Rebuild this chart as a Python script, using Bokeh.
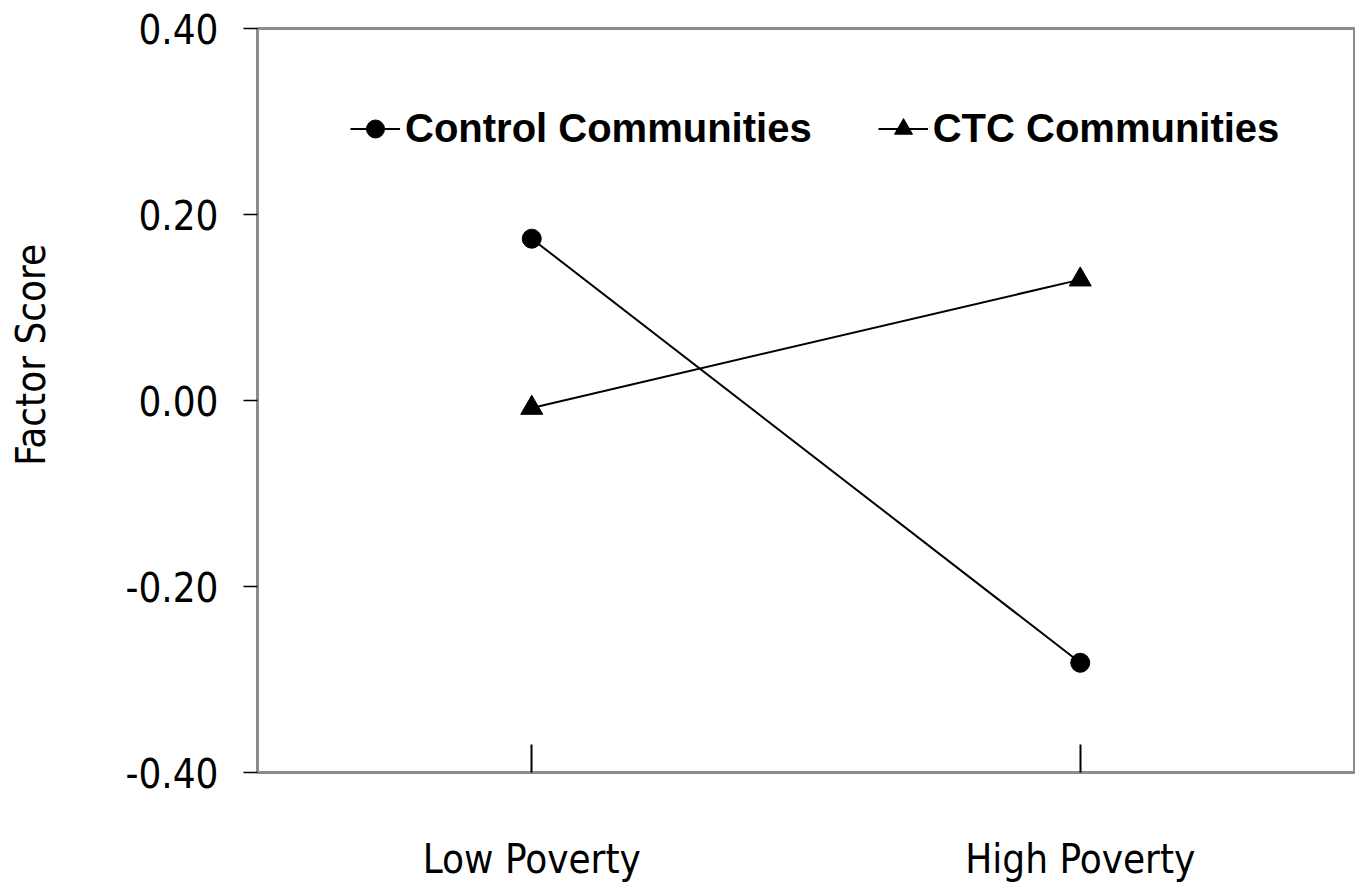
from bokeh.plotting import figure
from bokeh.models import FactorRange, Range1d, FixedTicker, NumeralTickFormatter
from bokeh.embed import file_html
from bokeh.resources import INLINE

# Data
categories = ["Low Poverty", "High Poverty"]
control = [0.174, -0.282]
ctc = [-0.008, 0.130]
y_ticks = [-0.4, -0.2, 0.0, 0.2, 0.4]

TICK_FONT = "DejaVu Sans Condensed, DejaVu Sans"
GRAY = "#8c8c8c"
NB = "\u00a0"

p = figure(
    x_range=FactorRange(*categories),
    y_range=Range1d(-0.4, 0.4),
    width=1355, height=884,
    output_backend="svg", toolbar_location=None,
    min_border_left=257, min_border_right=1,
    min_border_top=28, min_border_bottom=111,
)

p.line(categories, control, line_color="black", line_width=2, legend_label="Control Communities")
p.scatter(categories, control, marker="circle", size=19, color="black", legend_label="Control Communities")
p.line(categories, ctc, line_color="black", line_width=2, legend_label="CTC Communities")
p.scatter(categories, ctc, marker="triangle", size=22, color="black", legend_label="CTC Communities")

p.xgrid.visible = False
p.ygrid.visible = False
p.outline_line_color = GRAY
p.outline_line_width = 3

# Y axis
ya = p.yaxis[0]
ya.ticker = FixedTicker(ticks=y_ticks)
ya.formatter = NumeralTickFormatter(format="0.00")
ya.axis_label = NB * 8 + "Factor Score"
ya.axis_label_text_font = TICK_FONT
ya.axis_label_text_font_size = "40px"
ya.axis_label_text_font_style = "normal"
ya.axis_label_text_color = "black"
ya.axis_label_standoff = 68
ya.major_label_text_font = TICK_FONT
ya.major_label_text_font_size = "40px"
ya.major_label_text_color = "black"
ya.major_label_standoff = 25
ya.axis_line_color = GRAY
ya.axis_line_width = 3
ya.major_tick_line_color = "black"
ya.major_tick_line_width = 1.5
ya.major_tick_out = 14
ya.major_tick_in = 0
ya.minor_tick_line_color = None

# X axis
xa = p.xaxis[0]
xa.major_label_overrides = {
    categories[0]: categories[0] + NB * 2,
    categories[1]: categories[1] + NB * 6,
}
xa.major_label_text_font = TICK_FONT
xa.major_label_text_font_size = "40px"
xa.major_label_text_color = "black"
xa.major_label_standoff = 63
xa.axis_line_color = GRAY
xa.axis_line_width = 3
xa.major_tick_line_color = "black"
xa.major_tick_line_width = 2
xa.major_tick_in = 28
xa.major_tick_out = 0

# Legend
lg = p.legend[0]
lg.orientation = "horizontal"
lg.location = (93, 621)
lg.border_line_color = None
lg.background_fill_alpha = 0
lg.padding = 0
lg.margin = 0
lg.spacing = 66
lg.glyph_width = 50
lg.glyph_height = 45
lg.label_height = 40
lg.label_standoff = 5
lg.label_text_font = "Liberation Sans"
lg.label_text_font_style = "bold"
lg.label_text_font_size = "40px"
lg.label_text_color = "black"

open("out.html", "w").write(file_html(p, INLINE))
